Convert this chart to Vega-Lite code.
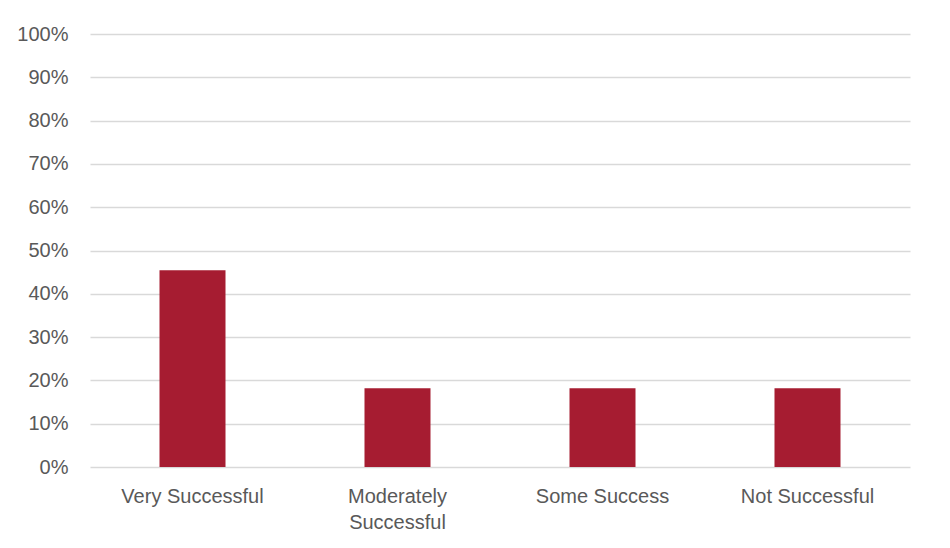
{
  "$schema": "https://vega.github.io/schema/vega-lite/v6.json",
  "width": 820,
  "height": 433,
  "autosize": {"type": "none"},
  "padding": {"left": 90, "top": 34, "right": 40, "bottom": 81},
  "background": "white",
  "config": {"view": {"stroke": null}, "font": "Liberation Sans"},
  "data": {
    "values": [
      {"category": "Very Successful", "share": 0.4545},
      {"category": "Moderately Successful", "share": 0.1818},
      {"category": "Some Success", "share": 0.1818},
      {"category": "Not Successful", "share": 0.1818}
    ]
  },
  "mark": {"type": "bar", "color": "#A61C31"},
  "encoding": {
    "x": {
      "field": "category",
      "type": "nominal",
      "sort": null,
      "scale": {"paddingInner": 0.678, "paddingOuter": 0.339},
      "axis": {
        "title": null,
        "labelAngle": 0,
        "domain": false,
        "ticks": false,
        "labelFont": "Liberation Sans",
        "labelFontSize": 20,
        "labelColor": "#595959",
        "labelPadding": 19,
        "labelLineHeight": 26,
        "labelExpr": "datum.label == 'Moderately Successful' ? ['Moderately', 'Successful'] : datum.label"
      }
    },
    "y": {
      "field": "share",
      "type": "quantitative",
      "scale": {"domain": [0, 1], "nice": false},
      "axis": {
        "title": null,
        "format": ".0%",
        "values": [0, 0.1, 0.2, 0.3, 0.4, 0.5, 0.6, 0.7, 0.8, 0.9, 1],
        "domain": false,
        "ticks": false,
        "grid": true,
        "gridColor": "#D9D9D9",
        "gridWidth": 1.3,
        "labelFont": "Liberation Sans",
        "labelFontSize": 20,
        "labelColor": "#595959",
        "labelPadding": 22
      }
    }
  }
}
